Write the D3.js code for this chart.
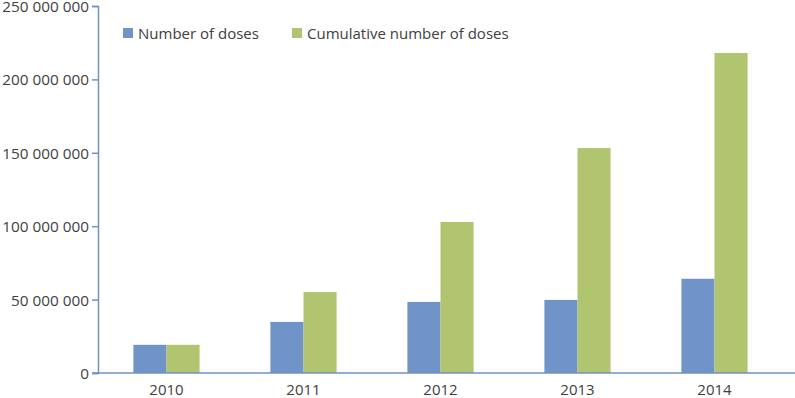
<!doctype html>
<html>
  <head>
    <script src="https://cdnjs.cloudflare.com/ajax/libs/d3/7.8.5/d3.min.js"></script>
    <style>
      body { margin: 0; background: #fff; }
      text { font-family: "Open Sans", "Liberation Sans", sans-serif; fill: #404040; }
      .axis path, .axis line { stroke: #7292c6; stroke-width: 1.5; }
    </style>
  </head>
  <body>
    <svg width="795" height="398"></svg>
    <script>
      var years = ["2010", "2011", "2012", "2013", "2014"];
      var doses = [19200000, 34800000, 48400000, 49800000, 64200000];
      var cumulative = [19200000, 55200000, 102900000, 153300000, 218000000];
      var seriesNames = ["Number of doses", "Cumulative number of doses"];
      var colors = ["#7094c8", "#b1c46f"];
      var yTicks = [0, 50000000, 100000000, 150000000, 200000000, 250000000];

      var svg = d3.select("svg");
      var plotLeft = 98, plotRight = 783, plotTop = 6, plotBottom = 373;

      var x = d3.scaleBand().domain(years).range([plotLeft, plotRight]);
      var x1 = d3.scaleBand().domain(seriesNames).range([0, x.bandwidth()]).paddingOuter(1.07).paddingInner(0);
      var y = d3.scaleLinear().domain([0, 250000000]).range([plotBottom, plotTop]);

      var fmt = d => d3.format(",")(d).replace(/,/g, " ");

      var rows = years.map((yr, i) => ({year: yr, values: [doses[i], cumulative[i]]}));

      svg.selectAll("g.year").data(rows).enter()
        .append("g").attr("class", "year")
        .attr("transform", d => "translate(" + x(d.year) + ",0)")
        .selectAll("rect").data(d => d.values.map((v, j) => ({name: seriesNames[j], v: v, c: colors[j]})))
        .enter().append("rect")
          .attr("x", d => x1(d.name))
          .attr("width", x1.bandwidth())
          .attr("y", d => y(d.v))
          .attr("height", d => plotBottom - y(d.v))
          .attr("fill", d => d.c);

      var yAxis = svg.append("g").attr("class", "axis")
        .attr("transform", "translate(" + plotLeft + ",0)")
        .call(d3.axisLeft(y).tickValues(yTicks).tickFormat(fmt).tickSize(6).tickSizeOuter(6));
      yAxis.selectAll("text").attr("font-size", 15.3).attr("x", -9).attr("dy", "0.36em");

      var xAxis = svg.append("g").attr("class", "axis")
        .attr("transform", "translate(0," + plotBottom + ")")
        .call(d3.axisBottom(x).tickSize(0).tickSizeOuter(0));
      xAxis.select("path").attr("d", "M" + (plotLeft - 6) + ",0H795");
      xAxis.selectAll("text").attr("font-size", 15).attr("dy", "1.25em");
      d3.selectAll(".axis text").attr("fill", "#404040").style("fill", "#404040");

      var legend = svg.append("g");
      var lx = [123, 292];
      seriesNames.forEach((n, i) => {
        legend.append("rect").attr("x", lx[i]).attr("y", 28).attr("width", 10).attr("height", 10).attr("fill", colors[i]);
        legend.append("text").attr("x", lx[i] + 15).attr("y", 39).attr("font-size", 15).text(n);
      });
    </script>
  </body>
</html>
